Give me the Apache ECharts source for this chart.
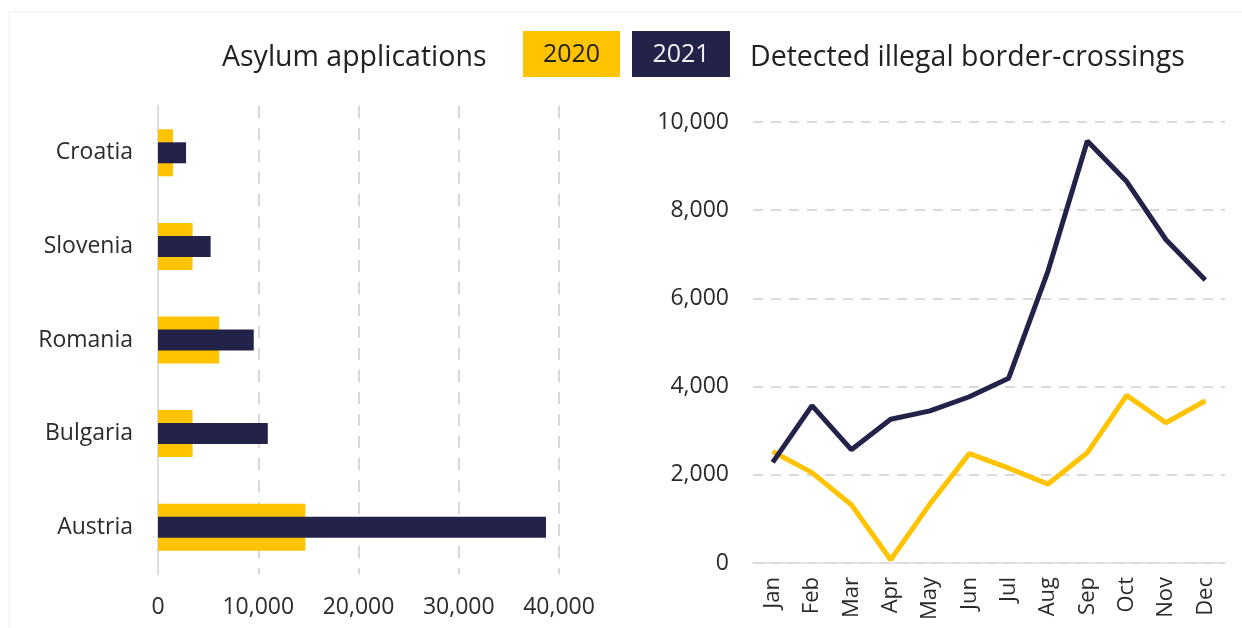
<!DOCTYPE html>
<html>
<head>
<meta charset="utf-8">
<script src="https://cdn.jsdelivr.net/npm/echarts@6/dist/echarts.min.js"></script>
<style>
  html, body { margin: 0; padding: 0; background: #fff; }
  #chart { width: 1242px; height: 628px; }
</style>
</head>
<body>
<div id="chart"></div>
<script>
// ---- Data ----
const countries = ['Croatia', 'Slovenia', 'Romania', 'Bulgaria', 'Austria'];
const asylum2020 = [1500, 3450, 6100, 3450, 14700];
const asylum2021 = [2800, 5250, 9550, 10950, 38700];

const months = ['Jan', 'Feb', 'Mar', 'Apr', 'May', 'Jun', 'Jul', 'Aug', 'Sep', 'Oct', 'Nov', 'Dec'];
const crossings2020 = [2530, 2050, 1320, 75, 1340, 2480, 2150, 1790, 2500, 3800, 3180, 3680];
const crossings2021 = [2280, 3570, 2570, 3260, 3450, 3770, 4190, 6620, 9570, 8650, 7330, 6420];

const leftTicks = { min: 0, max: 40000, interval: 10000 };
const rightTicks = { min: 0, max: 10000, interval: 2000 };

const seriesNames = ['2020', '2021'];
const titleLeft = 'Asylum applications';
const titleRight = 'Detected illegal border-crossings';

// ---- Styles ----
const YELLOW = '#FFC300';
const NAVY = '#23234A';
const FONT = 'Open Sans';
const TXT = '#2b2b2b';
const GRID = '#D9D9D9';

const fmt = v => v.toLocaleString('en-US');

const chart = echarts.init(document.getElementById('chart'));
chart.setOption({
  backgroundColor: '#fff',
  animation: false,
  textStyle: { fontFamily: FONT },
  grid: [
    { left: 158, top: 106, width: 401, height: 468, containLabel: false },
    { left: 753, top: 122, width: 472, height: 441, containLabel: false }
  ],
  xAxis: [
    {
      type: 'value', gridIndex: 0,
      min: leftTicks.min, max: leftTicks.max, interval: leftTicks.interval,
      axisLine: { show: false }, axisTick: { show: false },
      axisLabel: { formatter: fmt, color: TXT, fontSize: 23, fontFamily: FONT, margin: 22 },
      splitLine: { show: true, lineStyle: { color: GRID, width: 2, type: [12, 10] } }
    },
    {
      type: 'category', gridIndex: 1, data: months, boundaryGap: true,
      axisLine: { show: true, lineStyle: { color: '#DCDCDC', width: 1.5 } },
      axisTick: { show: false },
      axisLabel: { rotate: 90, color: TXT, fontSize: 22, fontFamily: FONT, margin: 14, interval: 0 }
    }
  ],
  yAxis: [
    {
      type: 'category', gridIndex: 0, data: countries, inverse: true,
      axisLine: { show: true, lineStyle: { color: '#DCDCDC', width: 2 } },
      axisTick: { show: false },
      axisLabel: { color: TXT, fontSize: 23, fontFamily: FONT, margin: 25, padding: [5, 0, 0, 0] }
    },
    {
      type: 'category', gridIndex: 0, data: countries, inverse: true, show: false
    },
    {
      type: 'value', gridIndex: 1,
      min: rightTicks.min, max: rightTicks.max, interval: rightTicks.interval,
      axisLine: { show: false }, axisTick: { show: false },
      axisLabel: { formatter: fmt, color: TXT, fontSize: 23, fontFamily: FONT, margin: 24, padding: [2, 0, 0, 0] },
      splitLine: { show: true, lineStyle: { color: GRID, width: 2, type: [10, 8] } }
    }
  ],
  series: [
    {
      name: seriesNames[0], type: 'bar', xAxisIndex: 0, yAxisIndex: 0,
      data: asylum2020, barWidth: 47, itemStyle: { color: YELLOW }, z: 2
    },
    {
      name: seriesNames[1], type: 'bar', xAxisIndex: 0, yAxisIndex: 1,
      data: asylum2021, barWidth: 21, itemStyle: { color: NAVY }, z: 3
    },
    {
      name: seriesNames[0], type: 'line', xAxisIndex: 1, yAxisIndex: 2,
      data: crossings2020, symbol: 'none', lineStyle: { color: YELLOW, width: 5 },
      itemStyle: { color: YELLOW }, z: 3
    },
    {
      name: seriesNames[1], type: 'line', xAxisIndex: 1, yAxisIndex: 2,
      data: crossings2021, symbol: 'none', lineStyle: { color: NAVY, width: 5 },
      itemStyle: { color: NAVY }, z: 4
    }
  ],
  graphic: [
    { type: 'line', shape: { x1: 9, y1: 12, x2: 1242, y2: 12 }, style: { stroke: '#F0F0F0', lineWidth: 1 }, silent: true },
    { type: 'line', shape: { x1: 9, y1: 12, x2: 9, y2: 628 }, style: { stroke: '#F0F0F0', lineWidth: 1 }, silent: true },
    {
      type: 'text', x: 222, y: 58,
      style: { text: titleLeft, fill: '#222', font: '28.5px "' + FONT + '"', verticalAlign: 'middle' }
    },
    { type: 'rect', shape: { x: 523, y: 31, width: 97, height: 46 }, style: { fill: YELLOW } },
    {
      type: 'text', x: 571.5, y: 55,
      style: { text: seriesNames[0], fill: '#222', font: '25px "' + FONT + '"', align: 'center', verticalAlign: 'middle' }
    },
    { type: 'rect', shape: { x: 632, y: 31, width: 98, height: 46 }, style: { fill: NAVY } },
    {
      type: 'text', x: 681, y: 55,
      style: { text: seriesNames[1], fill: '#F2F2F2', font: '25px "' + FONT + '"', align: 'center', verticalAlign: 'middle' }
    },
    {
      type: 'text', x: 750, y: 58,
      style: { text: titleRight, fill: '#222', font: '28.5px "' + FONT + '"', verticalAlign: 'middle' }
    }
  ]
});
</script>
</body>
</html>
